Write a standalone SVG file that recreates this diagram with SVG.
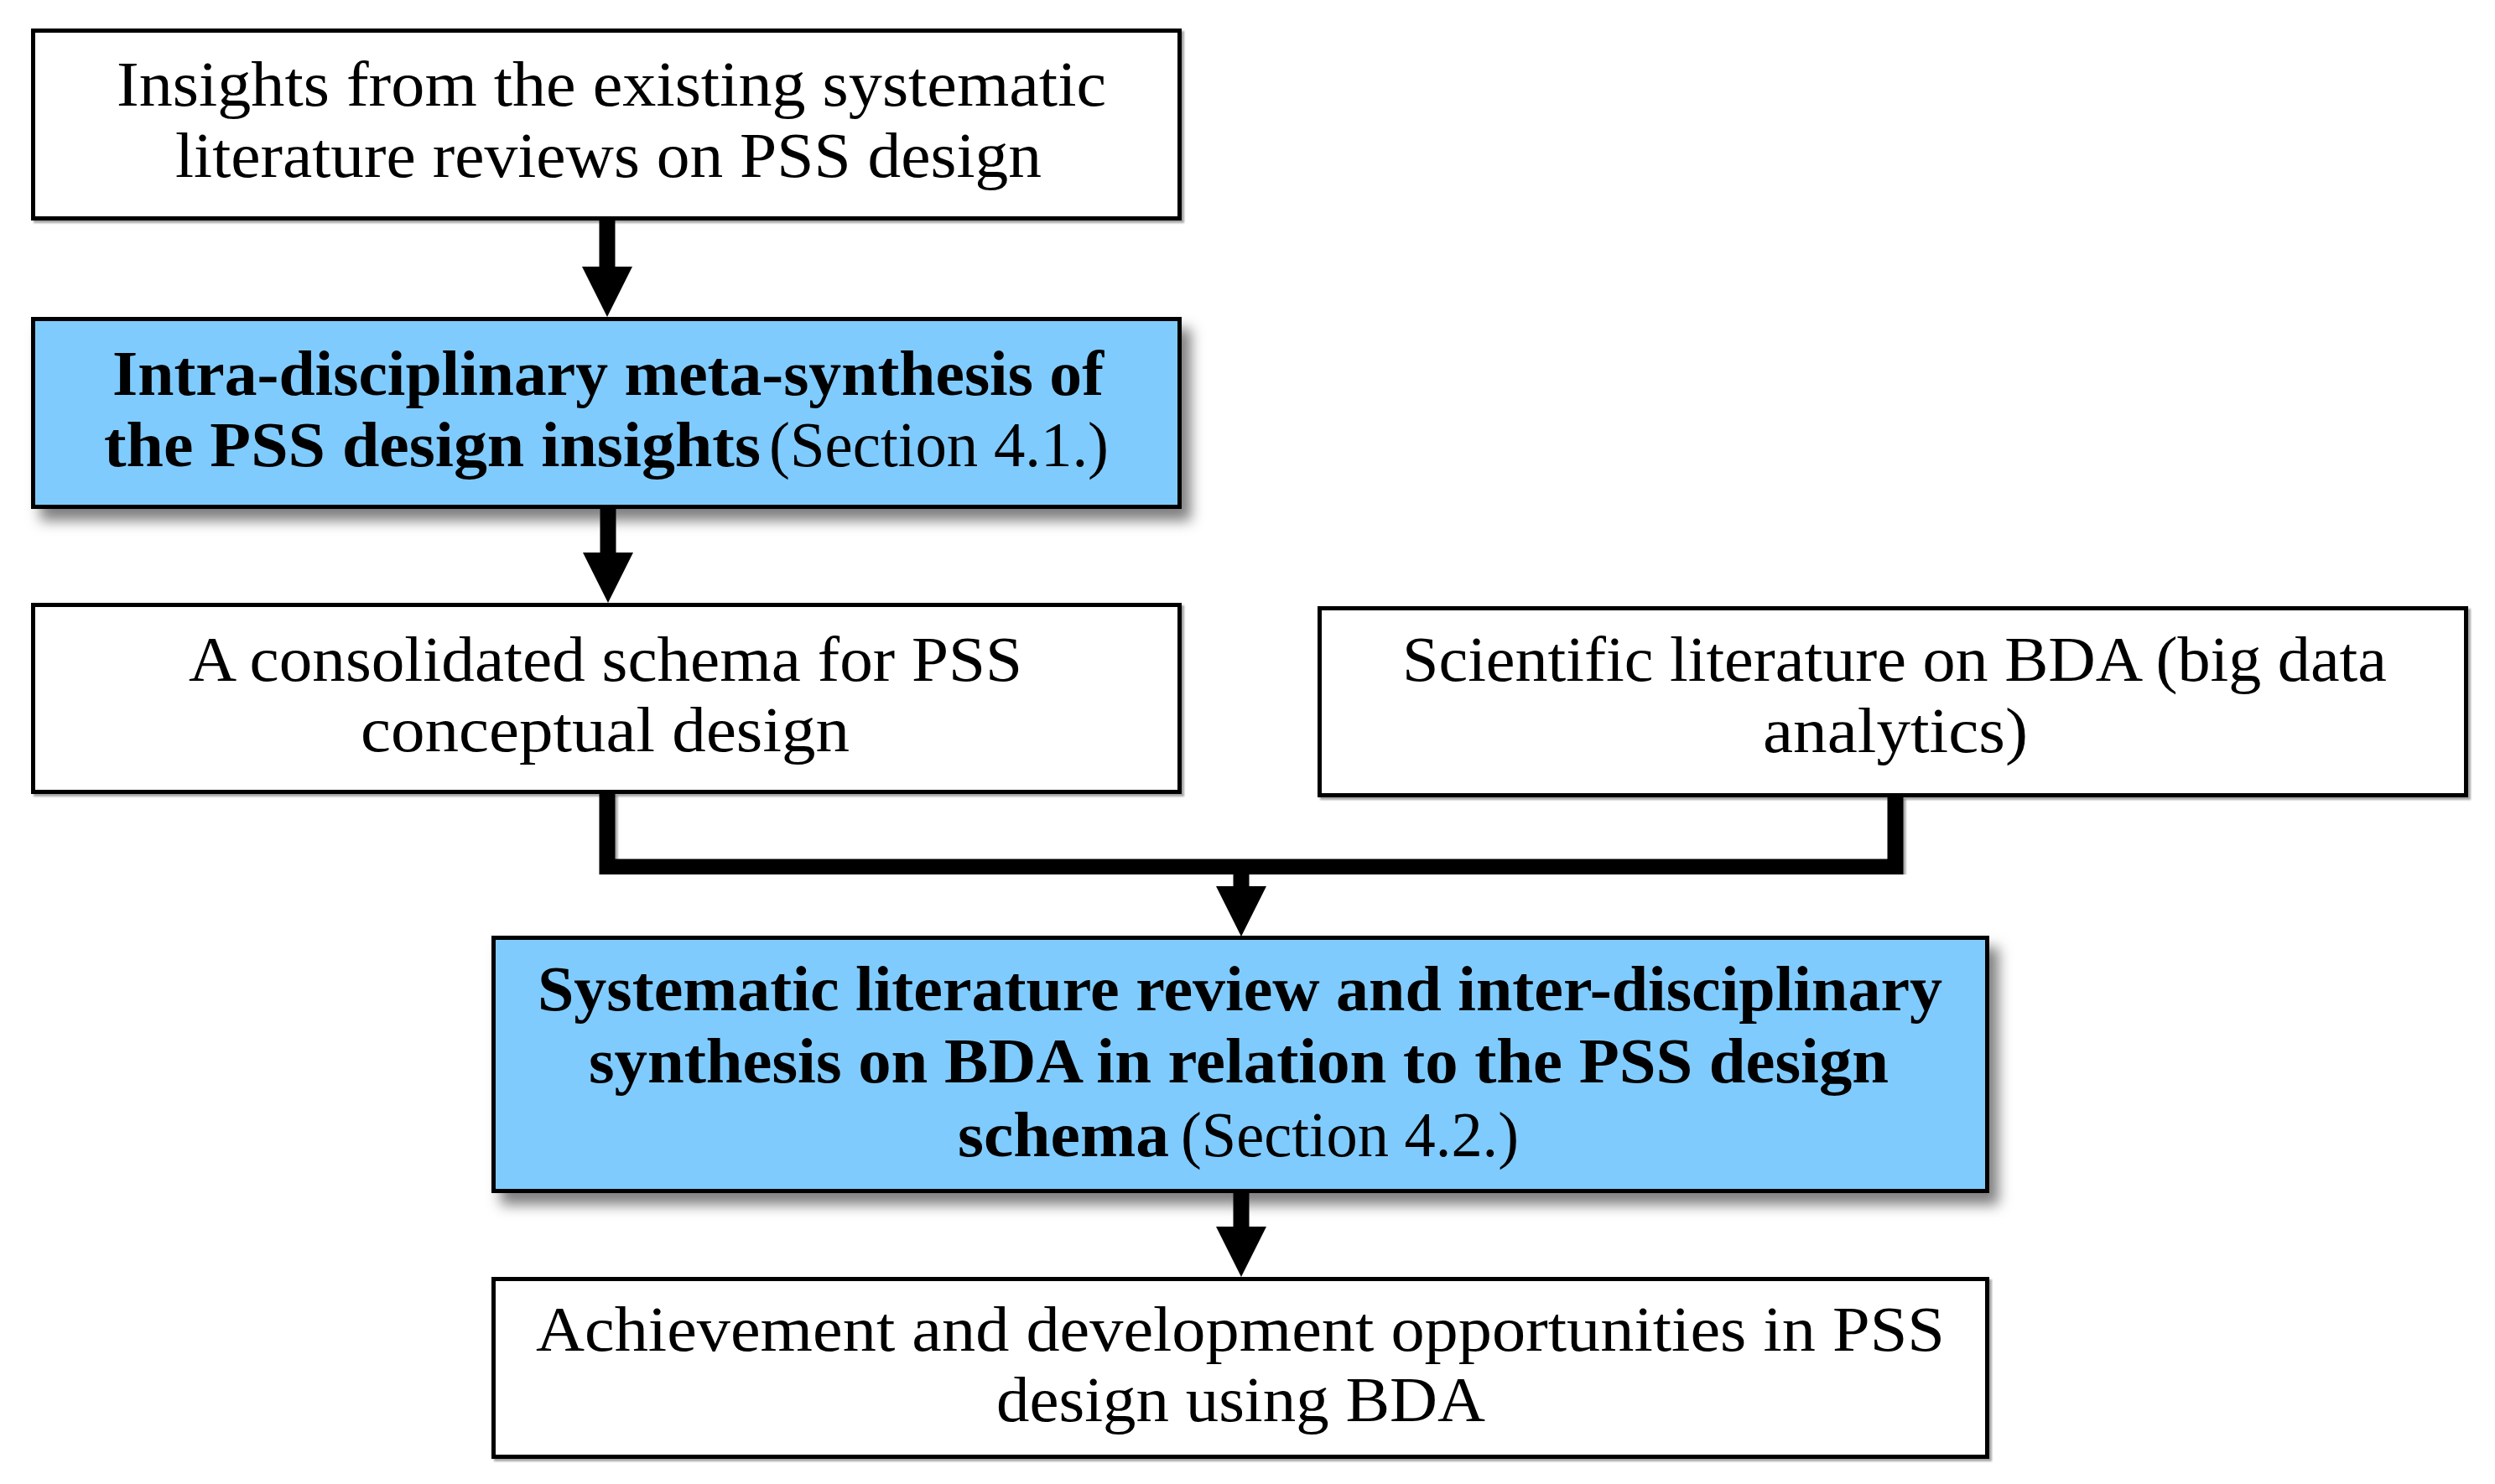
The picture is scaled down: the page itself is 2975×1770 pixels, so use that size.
<svg xmlns="http://www.w3.org/2000/svg" width="2975" height="1770" viewBox="0 0 2975 1770">
<defs>
<style>
.box{fill:#ffffff;stroke:#000;stroke-width:5}
.blue{fill:#80CBFD;stroke:#000;stroke-width:5}
.t{font-family:"Liberation Serif","Times New Roman",serif;font-size:76px;fill:#000}
.b{font-weight:bold}
.n{font-weight:normal}
.wire{fill:none;stroke:#000;stroke-width:19;stroke-linejoin:miter}
</style>
<filter id="shBig" x="-10%" y="-10%" width="125%" height="135%">
<feDropShadow dx="11" dy="14" stdDeviation="8" flood-color="#000" flood-opacity="0.5"/>
</filter>
<filter id="shSmall" x="-5%" y="-5%" width="110%" height="115%">
<feDropShadow dx="3" dy="3" stdDeviation="1.2" flood-color="#000" flood-opacity="0.35"/>
</filter>
<marker id="ah" viewBox="0 0 60 60" markerWidth="60" markerHeight="60" markerUnits="userSpaceOnUse" refX="0" refY="30" orient="auto">
<path d="M0,0 L60,30 L0,60 z" fill="#000"/>
</marker>
</defs>
<rect width="2975" height="1770" fill="#fff"/>

<g id="connectors">
<path class="wire" d="M724,262 V318" marker-end="url(#ah)"/>
<path class="wire" d="M725,606 V659" marker-end="url(#ah)"/>
<path class="wire" d="M724,946 V1034 H2260 V950" filter="url(#shSmall)"/>
<path class="wire" d="M1480,1034 V1057" marker-end="url(#ah)"/>
<path class="wire" d="M1480,1422 V1463" marker-end="url(#ah)"/>
</g>

<g id="n1">
<rect class="box" x="39.5" y="36.5" width="1367" height="224" filter="url(#shSmall)"/>
<text class="t"><tspan x="139" y="126" textLength="1180" lengthAdjust="spacingAndGlyphs">Insights from the existing systematic</tspan></text>
<text class="t"><tspan x="209" y="211" textLength="1033" lengthAdjust="spacingAndGlyphs">literature reviews on PSS design</tspan></text>
</g>

<g id="n2">
<rect class="blue" x="39.5" y="380.5" width="1367" height="224" filter="url(#shBig)"/>
<text class="t b"><tspan x="134" y="471" textLength="1182" lengthAdjust="spacingAndGlyphs">Intra-disciplinary meta-synthesis of</tspan></text>
<text class="t"><tspan class="b" x="124" y="556" textLength="783" lengthAdjust="spacingAndGlyphs">the PSS design insights</tspan></text>
<text class="t n"><tspan x="917" y="556" textLength="405" lengthAdjust="spacingAndGlyphs">(Section 4.1.)</tspan></text>
</g>

<g id="n3">
<rect class="box" x="39.5" y="721.5" width="1367" height="223" filter="url(#shSmall)"/>
<text class="t"><tspan x="225" y="812" textLength="994" lengthAdjust="spacingAndGlyphs">A consolidated schema for PSS</tspan></text>
<text class="t"><tspan x="430" y="896" textLength="583" lengthAdjust="spacingAndGlyphs">conceptual design</tspan></text>
</g>

<g id="n4">
<rect class="box" x="1573.5" y="725.5" width="1367" height="223" filter="url(#shSmall)"/>
<text class="t"><tspan x="1672" y="812" textLength="1174" lengthAdjust="spacingAndGlyphs">Scientific literature on BDA (big data</tspan></text>
<text class="t"><tspan x="2102" y="897" textLength="316" lengthAdjust="spacingAndGlyphs">analytics)</tspan></text>
</g>

<g id="n5">
<rect class="blue" x="588.5" y="1118.5" width="1781" height="302" filter="url(#shBig)"/>
<text class="t b"><tspan x="641" y="1205" textLength="1675" lengthAdjust="spacingAndGlyphs">Systematic literature review and inter-disciplinary</tspan></text>
<text class="t b"><tspan x="702" y="1291" textLength="1550" lengthAdjust="spacingAndGlyphs">synthesis on BDA in relation to the PSS design</tspan></text>
<text class="t b"><tspan x="1142" y="1379" textLength="252" lengthAdjust="spacingAndGlyphs">schema</tspan></text>
<text class="t n"><tspan x="1408" y="1379" textLength="403" lengthAdjust="spacingAndGlyphs">(Section 4.2.)</tspan></text>
</g>

<g id="n6">
<rect class="box" x="588.5" y="1525.5" width="1781" height="212" filter="url(#shSmall)"/>
<text class="t"><tspan x="639" y="1611" textLength="1680" lengthAdjust="spacingAndGlyphs">Achievement and development opportunities in PSS</tspan></text>
<text class="t"><tspan x="1188" y="1695" textLength="583" lengthAdjust="spacingAndGlyphs">design using BDA</tspan></text>
</g>
</svg>
